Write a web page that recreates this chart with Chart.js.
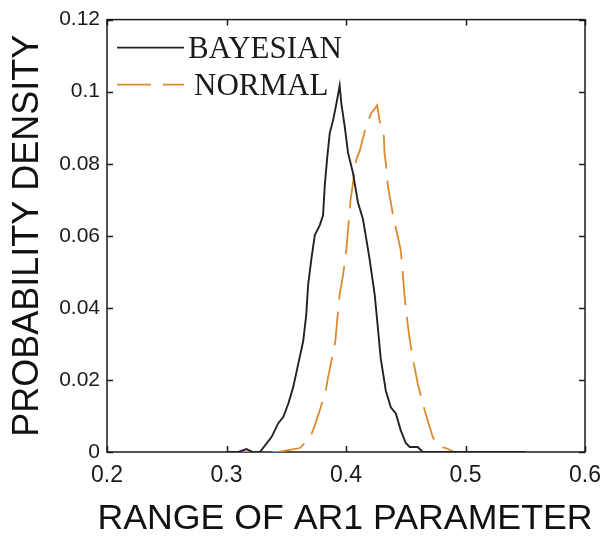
<!DOCTYPE html>
<html>
<head>
<meta charset="utf-8">
<script src="https://cdn.jsdelivr.net/npm/chart.js@4/dist/chart.umd.min.js"></script>
<style>
  html, body { margin: 0; padding: 0; background: #ffffff; }
  #wrap { width: 611px; height: 537px; }
</style>
</head>
<body>
<div id="wrap"><canvas id="chart" width="611" height="537"></canvas></div>
<script>
// Posterior density of the AR1 parameter: Bayesian estimate vs. normal approximation
const bayesX = [0.300, 0.310, 0.3167, 0.322, 0.328, 0.3378, 0.3433, 0.3475, 0.3517, 0.3558,
                0.360, 0.3642, 0.3667, 0.3683, 0.371, 0.3739, 0.378, 0.3808, 0.3822, 0.3844,
                0.3864, 0.3892, 0.392, 0.3947, 0.3961, 0.3989, 0.4017, 0.4058, 0.410, 0.4142,
                0.417, 0.4197, 0.424, 0.4267, 0.429, 0.4333, 0.4375, 0.4417, 0.4458, 0.450,
                0.4533, 0.460, 0.4642, 0.550];
const bayesY = [0, 0, 0.0008, 0, 0, 0.0042, 0.008, 0.0097, 0.0134, 0.018,
                0.0244, 0.0308, 0.038, 0.0463, 0.0535, 0.0602, 0.0629, 0.0657, 0.0739, 0.0821,
                0.0885, 0.0921, 0.0967, 0.1017, 0.0967, 0.0904, 0.083, 0.0775, 0.0692, 0.0646,
                0.0591, 0.0536, 0.0437, 0.0344, 0.0261, 0.017, 0.0124, 0.0107, 0.006, 0.0025,
                0.0014, 0.0014, 0, 0];

const normalX = [0.300, 0.3433, 0.3517, 0.3614, 0.3697, 0.3739, 0.378, 0.3828, 0.385, 0.3878,
                 0.3911, 0.3928, 0.3947, 0.3975, 0.4003, 0.4022, 0.4039, 0.4067, 0.4086, 0.4114,
                 0.4142, 0.417, 0.4211, 0.4261, 0.428, 0.4317, 0.4322, 0.4336, 0.435, 0.4372,
                 0.4392, 0.4419, 0.4456, 0.4467, 0.4489, 0.4503, 0.4531, 0.4558, 0.460, 0.4642,
                 0.4683, 0.4725, 0.478, 0.4836, 0.4906, 0.550];
const normalY = [0, 0, 0.0005, 0.0011, 0.0038, 0.0074, 0.0115, 0.0166, 0.0207, 0.0253,
                 0.0308, 0.0372, 0.0437, 0.0491, 0.056, 0.0637, 0.0701, 0.0766, 0.0811, 0.0835,
                 0.0871, 0.0907, 0.094, 0.0962, 0.0921, 0.0876, 0.083, 0.0794, 0.0739, 0.0698,
                 0.066, 0.0619, 0.0564, 0.0527, 0.0437, 0.039, 0.0317, 0.0262, 0.019, 0.0135,
                 0.0088, 0.0042, 0.0015, 0.0011, 0, 0];

const seriesNames = ['BAYESIAN', 'NORMAL'];
const xAxisTitle = 'RANGE OF AR1 PARAMETER';
const yAxisTitle = 'PROBABILITY DENSITY';

const xTickValues = [0.2, 0.3, 0.4, 0.5, 0.6];
const xTickLabels = ['0.2', '0.3', '0.4', '0.5', '0.6'];
const yTickValues = [0, 0.02, 0.04, 0.06, 0.08, 0.1, 0.12];
const yTickLabels = ['0', '0.02', '0.04', '0.06', '0.08', '0.1', '0.12'];

const toPoints = (xs, ys) => xs.map((x, i) => ({ x: x, y: ys[i] }));

// Axes box with inward tick marks on all four sides
const boxPlugin = {
  id: 'boxAxes',
  beforeDatasetsDraw(chart) {
    const { ctx, chartArea: a, scales } = chart;
    const len = 6;
    ctx.save();
    ctx.strokeStyle = '#1a1a1a';
    ctx.lineWidth = 1.5;
    ctx.strokeRect(a.left, a.top, a.right - a.left, a.bottom - a.top);
    ctx.beginPath();
    xTickValues.forEach(v => {
      const px = Math.round(scales.x.getPixelForValue(v)) + 0.5;
      ctx.moveTo(px, a.bottom); ctx.lineTo(px, a.bottom - len);
      ctx.moveTo(px, a.top); ctx.lineTo(px, a.top + len);
    });
    yTickValues.forEach(v => {
      const py = Math.round(scales.y.getPixelForValue(v)) + 0.5;
      ctx.moveTo(a.left, py); ctx.lineTo(a.left + len, py);
      ctx.moveTo(a.right, py); ctx.lineTo(a.right - len, py);
    });
    ctx.stroke();

    // x-axis title, allowed to run slightly wider than the plot box
    ctx.fillStyle = '#111111';
    ctx.font = '35.7px "Liberation Sans", Arial, sans-serif';
    ctx.textAlign = 'center';
    ctx.textBaseline = 'middle';
    ctx.fillText(xAxisTitle, (a.left + a.right) / 2 - 1, chart.height - 18);
    ctx.restore();
  }
};

// Legend drawn inside the upper-left corner of the plot
const insideLegend = {
  id: 'insideLegend',
  afterDatasetsDraw(chart) {
    const { ctx, chartArea: a } = chart;
    ctx.save();
    chart.data.datasets.forEach((ds, i) => {
      const y = a.top + 28 + i * 37;
      const x0 = a.left + 10;
      ctx.strokeStyle = ds.borderColor;
      ctx.lineWidth = ds.borderWidth;
      ctx.setLineDash(ds.borderDash || []);
      ctx.beginPath();
      ctx.moveTo(x0, y);
      ctx.lineTo(x0 + 67, y);
      ctx.stroke();
      ctx.setLineDash([]);
      ctx.fillStyle = '#1a1a1a';
      ctx.font = '31px "Liberation Serif", "Times New Roman", serif';
      ctx.textBaseline = 'alphabetic';
      ctx.textAlign = 'left';
      ctx.fillText(ds.label, x0 + 71 + i * 6, y + 10);
    });
    ctx.restore();
  }
};

new Chart(document.getElementById('chart'), {
  type: 'line',
  data: {
    datasets: [
      {
        label: seriesNames[0],
        data: toPoints(bayesX, bayesY),
        borderColor: '#222222',
        borderWidth: 1.9,
        pointRadius: 0,
        tension: 0,
        fill: false
      },
      {
        label: seriesNames[1],
        data: toPoints(normalX, normalY),
        borderColor: '#DC8A2E',
        borderWidth: 1.8,
        borderDash: [34, 12],
        pointRadius: 0,
        tension: 0,
        fill: false
      }
    ]
  },
  options: {
    responsive: false,
    animation: false,
    devicePixelRatio: 1,
    layout: { padding: { top: 15, right: 23, left: 0, bottom: 0 } },
    plugins: {
      legend: { display: false },
      tooltip: { enabled: false }
    },
    scales: {
      x: {
        type: 'linear',
        min: 0.2,
        max: 0.6,
        afterBuildTicks: s => { s.ticks = xTickValues.map(v => ({ value: v })); },
        afterFit: s => { s.height = 85; },
        grid: { display: false, drawTicks: false },
        border: { display: false },
        ticks: {
          padding: 10,
          color: '#1a1a1a',
          font: { family: '"Liberation Sans", Arial, sans-serif', size: 23 },
          maxRotation: 0,
          callback: (v, i) => xTickLabels[i]
        },
        title: { display: false }
      },
      y: {
        type: 'linear',
        min: 0,
        max: 0.12,
        afterBuildTicks: s => { s.ticks = yTickValues.map(v => ({ value: v })); },
        afterFit: s => { s.width = 107; },
        grid: { display: false, drawTicks: false },
        border: { display: false },
        ticks: {
          padding: 7,
          color: '#1a1a1a',
          font: { family: '"Liberation Sans", Arial, sans-serif', size: 21 },
          callback: (v, i) => yTickLabels[i]
        },
        title: {
          display: true,
          text: yAxisTitle,
          color: '#111111',
          font: { family: '"Liberation Sans", Arial, sans-serif', size: 36, lineHeight: 1 },
          padding: { top: 10, bottom: 0 }
        }
      }
    }
  },
  plugins: [boxPlugin, insideLegend]
});
</script>
</body>
</html>
